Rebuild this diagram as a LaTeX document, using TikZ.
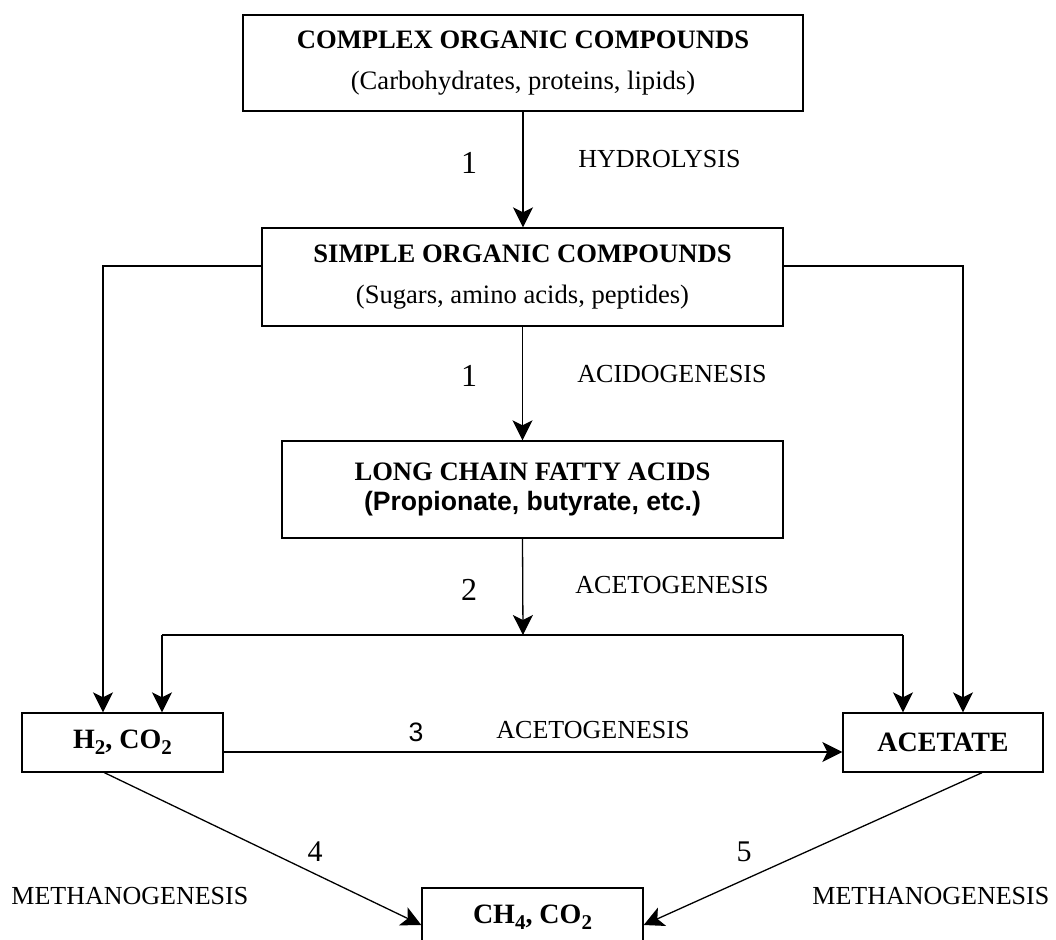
\documentclass[tikz,border=0pt]{standalone}
\usepackage{fontspec}
\setmainfont{Liberation Serif}
\newfontfamily\arialfont{Liberation Sans}
\usetikzlibrary{arrows.meta}
\newcommand{\lowsub}[1]{\raisebox{-0.5ex}{\fontsize{10.5}{12}\selectfont #1}}

\begin{document}
\begin{tikzpicture}[x=0.5pt, y=-0.5pt]
    \tikzset{
      stagebox/.style = {rectangle, draw=black, line width=0.7pt, align=center, inner sep=0pt, font=\fontsize{13.3}{20.5}\selectfont},
      phase/.style = {inner sep=0pt, font=\fontsize{13}{15}\selectfont},
      num/.style = {inner sep=0pt, font=\fontsize{16}{18}\selectfont},
      arrow/.style = {line width=0.65pt, -{Stealth[length=10pt, width=10pt, inset=2.5pt]}}
    }
    \useasboundingbox (0,0) rectangle (1056,939);
    \clip (0,0) rectangle (1056,939);

    \node (complex) [stagebox, minimum width=280pt, minimum height=48pt] at (523,63) {\textbf{COMPLEX ORGANIC COMPOUNDS}\\(Carbohydrates, proteins, lipids)};
    \node (simple) [stagebox, minimum width=260.5pt, minimum height=49pt] at (522.5,277) {\textbf{SIMPLE ORGANIC COMPOUNDS}\\(Sugars, amino acids, peptides)};
    \node (lcfa) [stagebox, minimum width=250.5pt, minimum height=48.5pt, font=\fontsize{13.3}{15}\selectfont] at (532.5,489.5) {\textbf{LONG CHAIN FATTY ACIDS}\\{\arialfont\bfseries (Propionate, butyrate, etc.)}};
    \node (h2) [stagebox, minimum width=100.5pt, minimum height=29.5pt, font=\fontsize{14}{16}\selectfont] at (122.5,742.5) {\textbf{H\lowsub{2}, CO\lowsub{2}}};
    \node (acetate) [stagebox, minimum width=100pt, minimum height=29.5pt, font=\fontsize{14}{16}\selectfont] at (943,742.5) {\textbf{ACETATE}};
    \node (ch4) [stagebox, minimum width=110.5pt, minimum height=29.5pt, font=\fontsize{14}{16}\selectfont] at (532.5,917.5) {\textbf{CH\lowsub{4}, CO\lowsub{2}}};

    % step numbers and phase names
    \node (n1a) [num] at (469,163) {1};
    \node (hydro) [phase, anchor=west] at (578,159) {HYDROLYSIS};
    \node (n1b) [num] at (469,376) {1};
    \node (acido) [phase, anchor=west] at (577,374) {ACIDOGENESIS};
    \node (n2) [num] at (469,590) {2};
    \node (aceto) [phase, anchor=west] at (575,585) {ACETOGENESIS};
    \node (n3) [inner sep=0pt, font=\arialfont\fontsize{13.3}{15}\selectfont] at (416,732) {3};
    \node (aceto2) [phase, anchor=west] at (496,730) {ACETOGENESIS};
    \node (n4) [num, font=\fontsize{15}{18}\selectfont] at (315,852) {4};
    \node (n5) [num, font=\fontsize{15}{18}\selectfont] at (744,852) {5};
    \node (methl) [phase, anchor=west] at (11,896) {METHANOGENESIS};
    \node (methr) [phase, anchor=west] at (812,896) {METHANOGENESIS};

    \coordinate (lt) at (103,266);
    \coordinate (rt) at (963,266);
    \coordinate (join) at (523,635);
    \coordinate (jl) at (162,635);
    \coordinate (jr) at (903,635);
    \coordinate (mid) at (500,752);

    \draw [arrow] (complex.south) -- (complex.south |- simple.north);
    \draw [arrow] (simple.south) -- (simple.south |- lcfa.north);
    \draw [arrow] (simple.south |- lcfa.south) -- (join);
    \draw [line width=0.65pt] (jl) -- (jr);
    \draw [arrow] (jl) -- (jl |- h2.north);
    \draw [arrow] (jr) -- (jr |- acetate.north);
    \draw [arrow] (simple.west |- lt) -- (lt) -- (lt |- h2.north);
    \draw [arrow] (simple.east |- rt) -- (rt) -- (rt |- acetate.north);
    \draw [arrow] (h2.east |- mid) -- (acetate.west |- mid);
    \draw [arrow] ([xshift=-9pt]h2.south) -- ([yshift=-3.75pt]ch4.west);
    \draw [arrow] ([xshift=19.5pt]acetate.south) -- ([yshift=-3.75pt]ch4.east);
\end{tikzpicture}
\end{document}
